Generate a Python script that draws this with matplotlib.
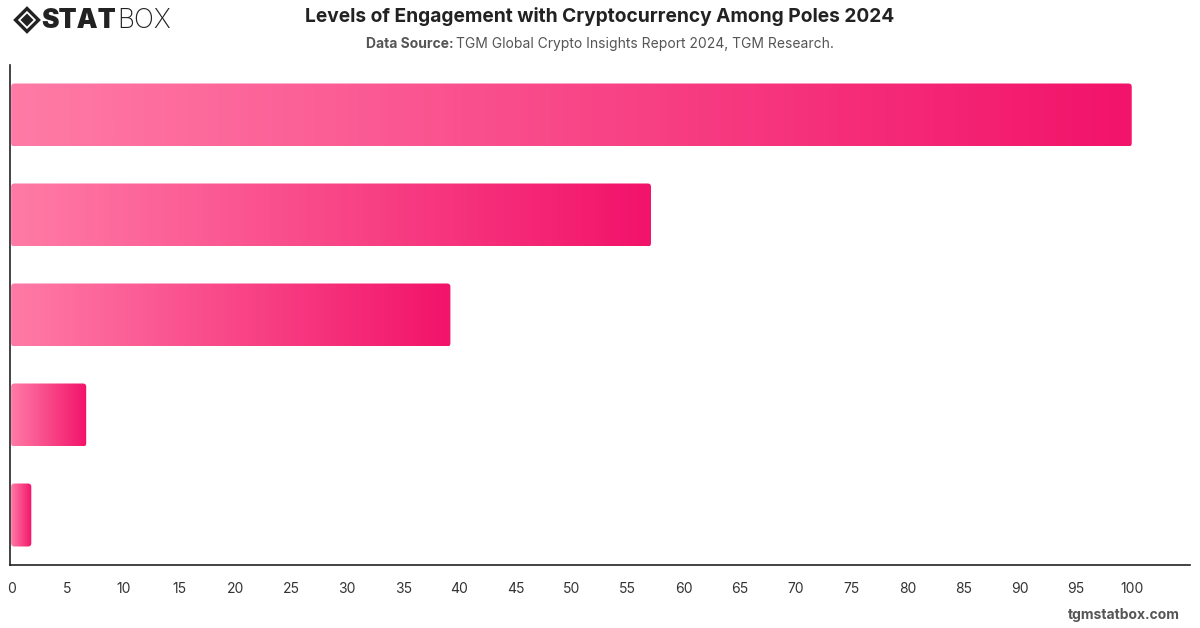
import numpy as np
import matplotlib
matplotlib.use("Agg")
import matplotlib.pyplot as plt
import matplotlib.transforms as mtransforms
from matplotlib.patches import FancyBboxPatch, RegularPolygon
from matplotlib.colors import LinearSegmentedColormap

plt.rcParams['font.family'] = ['Inter', 'DejaVu Sans']

# data
categories = ["Level 1", "Level 2", "Level 3", "Level 4", "Level 5"]
values = [100, 57.1, 39.2, 6.7, 1.8]
x_ticks = list(range(0, 101, 5))

title = "Levels of Engagement with Cryptocurrency Among Poles 2024"
source = "TGM Global Crypto Insights Report 2024, TGM Research."

cmap = LinearSegmentedColormap.from_list("pinkgrad", ["#ff7ba6", "#f2136a"])

fig = plt.figure(figsize=(12, 6.28), dpi=100)
ax = fig.add_axes([10 / 1200, 1 - 565 / 628, 1180 / 1200, 500 / 628])

bar_h = 0.63
ys = np.arange(len(categories))
grad = np.linspace(0, 1, 256).reshape(1, -1)
for y, v in zip(ys, values):
    patch = FancyBboxPatch((0, y - bar_h / 2), v, bar_h,
                           boxstyle="round,pad=0,rounding_size=0.3",
                           mutation_aspect=0.11,
                           facecolor="none", edgecolor="none")
    ax.add_patch(patch)
    im = ax.imshow(grad, cmap=cmap, aspect="auto",
                   extent=(0, v, y + bar_h / 2, y - bar_h / 2),
                   interpolation="bilinear", zorder=2)
    im.set_clip_path(patch)

ax.set_xlim(-0.1, 105.2)
ax.set_ylim(len(categories) - 0.5, -0.5)
ax.set_xticks(x_ticks)
ax.set_xticklabels([str(t) for t in x_ticks], fontsize=10, color="#333333")
ax.set_yticks([])
ax.tick_params(axis="x", length=0, pad=12)
for s in ["top", "right"]:
    ax.spines[s].set_visible(False)
for s in ["left", "bottom"]:
    ax.spines[s].set_color("#222222")
    ax.spines[s].set_linewidth(1.2)

# titles
fig.text(0.5, 1 - 17 / 628, title, ha="center", va="center",
         fontsize=13.8, fontweight="bold", color="#222222")
sub_y = 1 - 44 / 628
t1 = fig.text(0.5, sub_y, "Data Source: ", ha="right", va="center",
              fontsize=10, fontweight="bold", color="#555555")
t2 = fig.text(0.5, sub_y, source, ha="left", va="center",
              fontsize=10, color="#555555")
fig.canvas.draw()
w1 = t1.get_window_extent().width
w2 = t2.get_window_extent().width
x_mid = 0.5 - (w2 - w1) / 2 / 1200
t1.set_position((x_mid, sub_y))
t2.set_position((x_mid, sub_y))

# logo
logo_tr = mtransforms.Affine2D().translate(27, 628 - 20)
fig.patches.append(RegularPolygon((0, 0), 4, radius=11.5, transform=logo_tr,
                                  facecolor="none", edgecolor="#222222", linewidth=2.4))
fig.patches.append(RegularPolygon((0, 0), 4, radius=6.5, transform=logo_tr,
                                  facecolor="#222222", edgecolor="none"))
ts = fig.text(41 / 1200, 1 - 21 / 628, "STAT", ha="left", va="center",
              fontsize=19, fontweight="black", color="#222222")
fig.canvas.draw()
bs = ts.get_window_extent()
fig.text(bs.x1 / 1200 + 0.001, 1 - 21 / 628, "BOX", ha="left", va="center",
         fontsize=19, fontweight="light", color="#222222")

fig.text(1180 / 1200, 1 - 615 / 628, "tgmstatbox.com", ha="right", va="center",
         fontsize=10, fontweight="bold", color="#555555")

fig.savefig("out.png", dpi=100)
